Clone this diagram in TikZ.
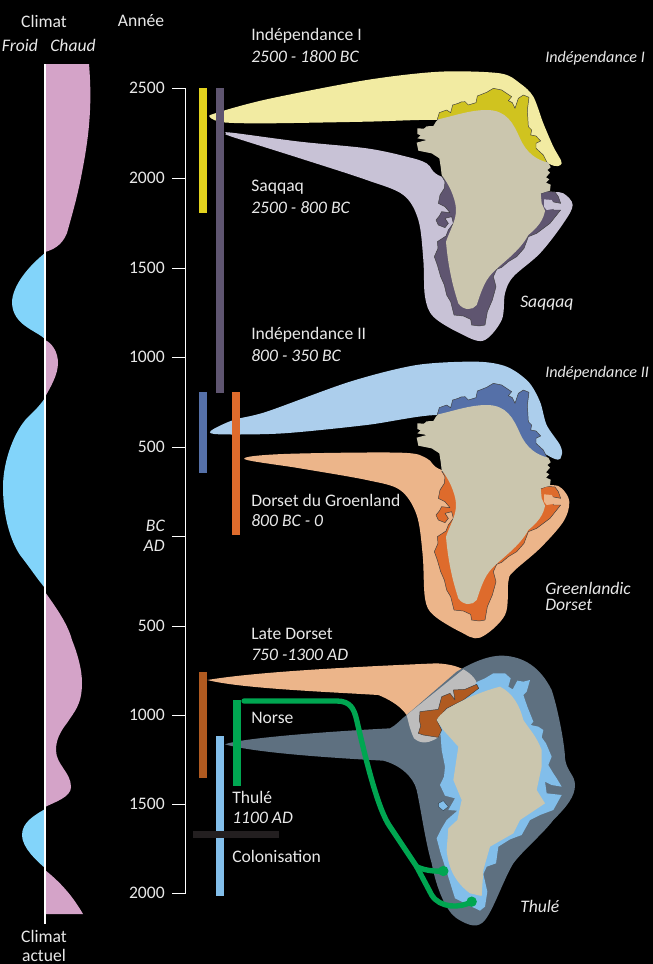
\documentclass[tikz,border=0pt]{standalone}
\usepackage{fontspec}
\setmainfont{Carlito}
\definecolor{pinkc}{HTML}{D4A3C8}
\definecolor{skyc}{HTML}{82D4FA}
\definecolor{yelL}{HTML}{F2EBA2}
\definecolor{yelD}{HTML}{D0C31F}
\definecolor{yelB}{HTML}{E2D21E}
\definecolor{lilL}{HTML}{C8C2D6}
\definecolor{lilD}{HTML}{5F5570}
\definecolor{bluL}{HTML}{ACCEEC}
\definecolor{bluD}{HTML}{5570A8}
\definecolor{oraL}{HTML}{ECB58A}
\definecolor{oraD}{HTML}{DE6B2C}
\definecolor{brown2}{HTML}{B05A20}
\definecolor{slatec}{HTML}{5E7080}
\definecolor{grayc}{HTML}{BDBDBD}
\definecolor{icec}{HTML}{CBC6AE}
\definecolor{thuB}{HTML}{82BEEA}
\definecolor{greenc}{HTML}{00A651}
\definecolor{txtc}{HTML}{E8E8E8}
\definecolor{darkbar}{HTML}{231F20}
\tikzset{
 x=0.75pt,y=-0.75pt,
 lab/.style={anchor=west,inner sep=0pt,text=txtc,font=\fontsize{13.2}{15}\selectfont},
 labi/.style={lab,font=\fontsize{13.2}{15}\selectfont\itshape},
 labr/.style={lab,font=\fontsize{12.1}{15}\selectfont\itshape},
 ctr/.style={lab,anchor=center},
 ctri/.style={labi,anchor=center},
 yr/.style={lab,anchor=east},
 yri/.style={labi,anchor=east},
 coast/.style={draw=black!75,line width=0.35pt,line join=round},
 mapA/.style={shift={(200,60)},x=0.25pt,y=-0.25pt},
 mapB/.style={shift={(200,355)},x=0.25pt,y=-0.25pt},
 mapC/.style={shift={(190,650)},x=0.25pt,y=-0.25pt},
 route/.style={draw=greenc,line width=4pt,line cap=round},
}
\def\iceA{(652,205) -- (672,206) -- (680,199) -- (700,198) -- (708,185) -- (715,178) .. controls (760,168) and (810,150) .. (860,150) .. controls (920,150) and (940,190) .. (960,235) .. controls (980,280) and (1010,300) .. (1045,308) -- (1052,322) -- (1042,330) -- (1050,338) -- (1038,352) -- (1048,358) -- (1038,368) -- (1052,374) -- (1050,392) -- (1022,400) -- (1025,430) -- (1035,452) .. controls (1030,480) and (1015,500) .. (985,525) .. controls (958,575) and (910,605) .. (876,640) .. controls (852,665) and (842,700) .. (830,735) .. controls (818,752) and (790,752) .. (775,730) .. controls (762,690) and (745,630) .. (738,545) .. controls (750,510) and (770,480) .. (768,445) .. controls (765,410) and (745,370) .. (725,345) -- (722,320) -- (718,295) -- (695,280) -- (655,272) -- (650,248) -- (680,240) -- (652,235) -- (662,226) -- (652,222) -- cycle}
\def\northD{(712,178) -- (718,158) -- (740,150) -- (752,158) -- (758,135) -- (775,130) -- (783,126) -- (795,125) -- (805,135) -- (828,128) -- (832,108) -- (860,97) -- (880,85) -- (905,90) -- (935,110) -- (925,122) -- (937,128) -- (945,145) -- (955,115) -- (970,105) -- (987,112) -- (982,150) -- (985,200) -- (995,210) -- (992,225) -- (1008,228) -- (1022,243) -- (1008,250) -- (1008,265) -- (1030,285) -- (1040,305) -- (1045,315) -- (900,250) -- (760,200) -- cycle}
\def\southD{(725,348) -- (735,365) -- (733,385) -- (720,405) -- (715,430) -- (735,440) -- (750,458) -- (725,455) -- (718,468) -- (708,480) -- (715,495) -- (735,503) -- (745,490) -- (735,475) -- (755,470) -- (760,490) -- (745,510) -- (738,528) -- (712,545) -- (714,565) -- (703,590) -- (712,615) -- (722,650) -- (733,675) -- (740,705) -- (752,725) -- (762,765) -- (790,768) -- (812,778) -- (815,795) -- (838,798) -- (855,795) -- (862,755) -- (877,720) -- (888,680) -- (880,650) -- (890,628) -- (905,622) -- (925,605) -- (950,590) -- (972,565) -- (985,530) -- (1010,520) -- (1050,490) -- (1082,450) -- (1060,450) -- (1055,425) -- (1082,430) -- (1075,410) -- (1065,396) -- (1040,394) -- (1022,402) -- (900,450) -- cycle}
\def\lagoon{(1032,418) -- (1055,420) -- (1060,428) -- (1075,436) -- (1060,447) -- (1040,450) -- (1032,440) -- cycle}
\begin{document}
\begin{tikzpicture}
\useasboundingbox (0,0) rectangle (653,964);
\fill[black] (0,0) rectangle (653,964);
% climate
\fill[pinkc] (45,64) -- (89,64) .. controls (92,100) and (90,130) .. (83,167) .. controls (78,195) and (72,215) .. (67,233) .. controls (62,246) and (52,250) .. (45,252) -- cycle;
\fill[skyc] (45,253) .. controls (30,265) and (12,285) .. (12,303) .. controls (13,325) and (35,330) .. (45,339) -- cycle;
\fill[pinkc] (45,340) .. controls (52,343) and (58,352) .. (58,363) .. controls (58,375) and (50,388) .. (45,397) -- cycle;
\fill[skyc] (45,398) .. controls (38,408) and (33,412) .. (28,417) .. controls (15,430) and (3,460) .. (3,487) .. controls (3,515) and (10,540) .. (20,555) .. controls (28,565) and (38,580) .. (45,588) -- cycle;
\fill[pinkc] (45,592) .. controls (58,610) and (68,625) .. (72,640) .. controls (78,655) and (82,670) .. (82,683) .. controls (82,705) and (74,712) .. (67,723) .. controls (60,732) and (56,740) .. (56,750) .. controls (56,765) and (71,772) .. (71,787) .. controls (71,797) and (55,802) .. (45,807) -- cycle;
\fill[skyc] (45,809) .. controls (35,815) and (22,822) .. (22,835) .. controls (22,848) and (38,862) .. (45,868) -- cycle;
\fill[pinkc] (45,870) .. controls (60,882) and (72,895) .. (83,914) -- (45,914) -- cycle;
\draw[white,line width=1.2pt] (45,64) -- (45,924);
% axis
\draw[white,line width=0.7pt] (172,88) -- (185.5,88) -- (185.5,893) -- (172,893);
\foreach \yy in {178,268,357,447,536,626,715,804}{\draw[white,line width=0.7pt] (172,\yy) -- (185.5,\yy);}
% map 1
\begin{scope}[mapA]
\fill[lilL] plot[smooth cycle,tension=.55] coordinates {(80,221) (95,218) (300,245) (500,265) (620,290) (680,310) (725,350) (900,390) (1050,396) (1090,400) (1118,435) (1090,490) (1020,580) (940,650) (915,700) (905,780) (850,842) (780,820) (700,770) (675,710) (670,600) (655,480) (610,405) (500,360) (300,295) (95,230)};
\fill[lilD,coast] \southD;
\fill[lilL] \lagoon;
\fill[yelL] plot[smooth cycle,tension=.5] coordinates {(30,172) (45,160) (200,118) (500,60) (720,35) (900,40) (960,70) (1000,110) (1030,190) (1060,260) (1085,310) (1045,310) (900,200) (720,180) (500,185) (200,190) (70,187)};
\fill[yelD,coast] \northD;
\fill[icec] \iceA;
\end{scope}
% map 2
\begin{scope}[mapB]
\fill[oraL] plot[smooth cycle,tension=.55] coordinates {(133,312) (250,297) (600,293) (680,310) (725,345) (900,390) (1050,390) (1085,400) (1108,440) (1090,500) (1020,580) (940,650) (925,680) (915,780) (840,848) (780,830) (700,780) (675,730) (668,600) (650,480) (600,405) (500,375) (300,340)};
\fill[oraD,coast] \southD;
\fill[oraL] \lagoon;
\fill[bluL] plot[smooth cycle,tension=.5] coordinates {(32,228) (100,195) (200,170) (450,80) (650,30) (830,20) (920,35) (985,80) (1020,140) (1040,210) (1080,270) (1085,300) (1060,310) (900,220) (720,180) (500,210) (250,235) (60,238)};
\fill[bluD,coast] \northD;
\fill[icec] \iceA;
\end{scope}
% map 3
\begin{scope}[mapC]
\fill[oraL] (52,90) .. controls (200,65) and (500,50) .. (740,40) .. controls (780,42) and (810,50) .. (830,65) -- (650,195) .. controls (630,165) and (590,145) .. (565,135) .. controls (400,125) and (150,115) .. (52,90) -- cycle;
\fill[slatec] (105,283) .. controls (150,265) and (400,245) .. (600,235) .. controls (620,225) and (635,205) .. (650,195) -- (800,65) .. controls (850,35) and (900,15) .. (940,17) .. controls (1000,20) and (1050,50) .. (1085,120) .. controls (1105,180) and (1125,290) .. (1125,325) .. controls (1130,365) and (1155,375) .. (1155,405) .. controls (1155,440) and (1130,470) .. (1090,510) .. controls (1060,550) and (1000,600) .. (970,640) .. controls (940,690) and (910,780) .. (885,810) .. controls (865,835) and (840,830) .. (800,805) .. controls (770,785) and (740,720) .. (725,640) .. controls (705,570) and (695,490) .. (680,420) .. controls (670,380) and (630,345) .. (580,332) .. controls (450,325) and (200,310) .. (105,283) -- cycle;
\fill[grayc] (820,58) .. controls (845,72) and (862,90) .. (865,115) -- (745,262) .. controls (720,278) and (695,285) .. (672,265) .. controls (660,240) and (655,215) .. (650,195) -- cycle;
\fill[thuB] (862,95) -- (885,85) -- (910,70) -- (945,70) -- (962,85) -- (955,110) -- (968,118) -- (982,92) -- (1000,95) -- (1020,90) -- (1010,125) -- (1000,135) -- (1012,170) -- (1030,215) -- (1022,225) -- (1045,230) -- (1060,240) -- (1055,262) -- (1068,280) -- (1085,320) -- (1075,345) -- (1090,370) -- (1100,385) -- (1115,410) -- (1085,405) -- (1065,395) -- (1070,430) -- (1115,435) -- (1090,480) -- (1050,495) -- (1020,510) -- (995,555) -- (960,568) -- (925,590) -- (918,640) -- (890,650) -- (880,672) -- (892,725) -- (885,770) -- (870,782) -- (835,765) -- (795,745) -- (770,665) -- (752,610) -- (740,565) -- (755,535) -- (770,510) -- (802,482) -- (775,480) -- (795,445) -- (765,437) -- (750,405) -- (762,380) -- (765,350) -- (755,300) -- (750,230) -- (800,170) -- cycle;
\fill[thuB,draw=slatec!60!black,line width=0.3pt] (745,460) -- (760,452) -- (775,470) -- (760,482) -- (745,470) -- cycle;
\fill[brown2,coast] (690,185) -- (745,178) -- (755,140) -- (780,130) -- (795,150) -- (790,120) -- (825,118) -- (860,103) -- (866,115) -- (820,150) -- (770,175) -- (740,210) -- (755,240) -- (745,262) -- (700,255) -- (685,250) -- (692,228) -- (688,210) -- cycle;
\fill[icec] (740,210) .. controls (760,170) and (870,125) .. (930,110) .. controls (970,130) and (990,170) .. (1000,210) .. controls (1020,240) and (1040,260) .. (1055,300) -- (1055,350) -- (1040,420) -- (1065,460) -- (990,510) -- (970,550) -- (900,590) -- (880,660) -- (875,738) -- (840,730) .. controls (800,700) and (775,660) .. (770,600) -- (775,535) -- (802,510) -- (815,450) -- (790,390) -- (805,290) -- (760,240) -- cycle;
\coordinate (rs) at (162,153);
\coordinate (rb) at (680,650);
\coordinate (d1) at (760,663);
\coordinate (d2) at (845,755);
\fill[greenc] (d1) circle (3.9pt) (d2) circle (3.9pt);
\draw[route] (rs) -- (440,153) .. controls (480,153) and (492,175) .. (500,210) .. controls (530,340) and (565,480) .. (600,530) -- (rb) .. controls (700,660) and (730,665) .. (d1);
\draw[route] (rb) -- (725,735) .. controls (750,775) and (810,775) .. (d2);
\end{scope}
% bars
\fill[yelB] (199,88) rectangle (207,213);
\fill[lilD] (216,88) rectangle (224,393);
\fill[bluD] (199,392) rectangle (207,473);
\fill[oraD] (232,392) rectangle (240,535);
\fill[brown2] (199,672) rectangle (207,778);
\fill[thuB] (216,736) rectangle (224,896);
\fill[greenc] (233,700) rectangle (241,786);
\fill[darkbar] (193,831) rectangle (279,838);
% text
\node[ctr] (climat) at (44,21) {Climat};
\node[ctri] (froid) at (20,45) {Froid};
\node[ctri] (chaud) at (73,45) {Chaud};
\node[ctr] (annee) at (141,21) {Année};
\node[ctr] (clim2) at (44,936) {Climat};
\node[ctr] (actuel) at (44,955.5) {actuel};
\foreach \yy/\tt/\nn in {88/2500/a,178/2000/b,268/1500/c,357/1000/d,447/500/e,626/500/f,715/1000/g,804/1500/h,893/2000/i}{\node[yr] (y\nn) at (165,\yy) {\tt};}
\node[yri] (bc) at (165,526) {BC};
\node[yri] (ad) at (165,546) {AD};
\node[lab] (t1) at (251,36) {Indépendance I};
\node[labi] (t1b) at (251,57) {2500 - 1800 BC};
\node[lab] (t2) at (251,187) {Saqqaq};
\node[labi] (t2b) at (251,208) {2500 - 800 BC};
\node[lab] (t3) at (251,335) {Indépendance II};
\node[labi] (t3b) at (251,356) {800 - 350 BC};
\node[lab] (t4) at (251,500) {Dorset du Groenland};
\node[labi] (t4b) at (251,521) {800 BC - 0};
\node[lab] (t5) at (251,634) {Late Dorset};
\node[labi] (t5b) at (251,655) {750 -1300 AD};
\node[lab] (t6) at (251,718) {Norse};
\node[lab] (t7) at (232,797) {Thulé};
\node[labi] (t7b) at (232,818) {1100 AD};
\node[lab] (t8) at (232,856) {Colonisation};
\node[labr] (m1) at (545,58) {Indépendance I};
\node[labi] (m2) at (520,303) {Saqqaq};
\node[labr] (m3) at (545,373) {Indépendance II};
\node[labi] (m4) at (545,588) {Greenlandic};
\node[labi] (m4b) at (545,605) {Dorset};
\node[labi] (m5) at (520,906) {Thulé};
\end{tikzpicture}
\end{document}
